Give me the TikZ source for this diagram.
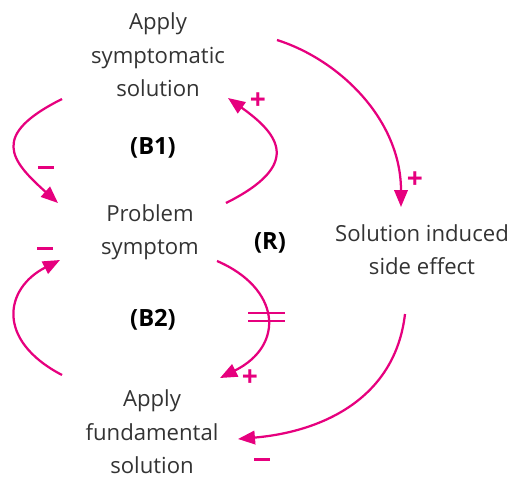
\documentclass[tikz,border=0pt]{standalone}
\usepackage{fontspec}
\setmainfont{Open Sans}
\usetikzlibrary{arrows.meta}
\definecolor{loopmagenta}{HTML}{E6007E}
\newcommand{\negsign}{\rule[0.3em]{9pt}{1.6pt}}
\tikzset{
	var/.style = {align=center, font=\fontsize{12.6}{19}\selectfont, text=black!80},
	looplabel/.style = {font=\fontsize{13.5}{15}\selectfont\bfseries},
	link/.style = {line width = 0.45mm, loopmagenta, -{Triangle[length=3.4mm,width=2.7mm]}},
	sign/.style = {text=loopmagenta, font=\fontsize{16}{16}\selectfont\bfseries}
}
\begin{document}
\begin{tikzpicture}[x=0.02cm,y=-0.02cm]
	\useasboundingbox (0,0) rectangle (514,477);

	% variables
	\node[var] (sym) at (158,55) {Apply\\symptomatic\\solution};
	\node[var] (prob) at (150,232) {Problem\\symptom};
	\node[var] (side) at (422,250) {Solution induced\\side effect};
	\node[var, inner sep=1pt] (fund) at (152,432) {Apply\\fundamental\\solution};

	% loop names
	\node[looplabel] (b1) at (153,148) {(B1)};
	\node[looplabel] (r) at (270,243) {(R)};
	\node[looplabel] (b2) at (153,320) {(B2)};

	% ends of the links
	\coordinate (b1out) at (62,99);
	\coordinate (b1in) at (58,203);
	\coordinate (b1back) at (226,203);
	\coordinate (b1top) at (228,98);
	\coordinate (b2out) at (62,375);
	\coordinate (b2in) at (60,260);
	\coordinate (rout) at (217,261);
	\coordinate (rin) at (220,378);
	\coordinate (sideout) at (277,40);
	\coordinate (sidein) at (401,207);
	\coordinate (sidefrom) at (405,314);
	\coordinate (fundin) at (238,439);

	% balancing loop B1
	\draw[link] (b1out) .. controls (-10,135) and (10,160) .. (b1in);
	\draw[link] (b1back) .. controls (302,165) and (280,135) .. (b1top);
	\node[sign] (m1) at (46,172) {\negsign};
	\node[sign] (p1) at (258,101) {+};

	% balancing loop B2
	\draw[link] (b2out) .. controls (-5,340) and (5,288) .. (b2in);
	\node[sign] (m2) at (45,253) {\negsign};

	% reinforcing loop R, with delay
	\draw[link] (rout) .. controls (280,288) and (286,345) .. (rin);
	\node[sign] (p2) at (250,378) {+};
	\draw[line width = 0.55mm, loopmagenta] (248,313) -- (285,313);
	\draw[line width = 0.55mm, loopmagenta] (248,321) -- (285,321);

	\draw[link] (sideout) .. controls (340,60) and (401,120) .. (sidein);
	\node[sign] (p3) at (415,180) {+};
	\draw[link] (sidefrom) .. controls (395,400) and (320,432) .. (fundin);
	\node[sign] (m3) at (262,464) {\negsign};

\end{tikzpicture}
\end{document}
